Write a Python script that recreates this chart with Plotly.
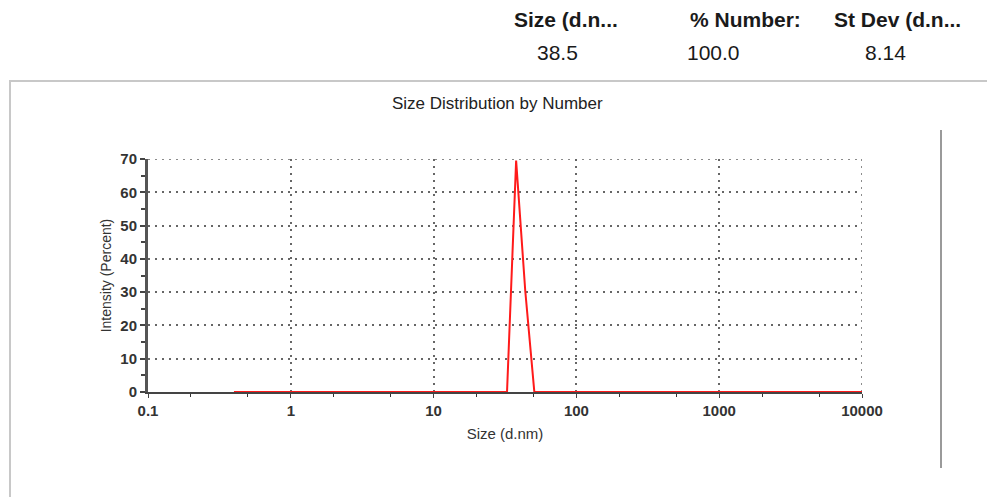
import plotly.graph_objects as go

# Size bins (d.nm) and number distribution (%)
sizes = [0.4000, 0.4632, 0.5365, 0.6213, 0.7195, 0.8332, 0.9649, 1.117, 1.294, 1.499,
         1.736, 2.010, 2.328, 2.696, 3.122, 3.615, 4.187, 4.849, 5.615, 6.503,
         7.531, 8.721, 10.10, 11.70, 13.54, 15.69, 18.17, 21.04, 24.36, 28.21,
         32.67, 37.84, 43.82, 50.75, 58.77, 68.06, 78.82, 91.28, 105.7, 122.4,
         141.8, 164.2, 190.1, 220.2, 255.0, 295.3, 342.0, 396.1, 458.7, 531.2,
         615.1, 712.4, 825.0, 955.4, 1106, 1281, 1484, 1718, 1990, 2305,
         2669, 3091, 3580, 4145, 4801, 5560, 6439, 7456, 8635, 10000]
number_pct = [0, 0, 0, 0, 0, 0, 0, 0, 0, 0,
              0, 0, 0, 0, 0, 0, 0, 0, 0, 0,
              0, 0, 0, 0, 0, 0, 0, 0, 0, 0,
              0, 69.5, 30.5, 0, 0, 0, 0, 0, 0, 0,
              0, 0, 0, 0, 0, 0, 0, 0, 0, 0,
              0, 0, 0, 0, 0, 0, 0, 0, 0, 0,
              0, 0, 0, 0, 0, 0, 0, 0, 0, 0]

x_tickvals = [0.1, 1, 10, 100, 1000, 10000]
x_ticktext = ["0.1", "1", "10", "100", "1000", "10000"]
y_tickvals = [0, 10, 20, 30, 40, 50, 60, 70]

header_labels = ["Size (d.n...", "% Number:", "St Dev (d.n..."]
header_values = ["38.5", "100.0", "8.14"]

W, H = 987, 497
L, R, T, B = 148, 862, 159, 392


def px(x):
    return (x - L) / (R - L)


def py(y):
    return (B - y) / (B - T)


FONT = "Liberation Sans Narrow, Liberation Sans, Arial, sans-serif"
HFONT = "Liberation Sans, Arial, sans-serif"
GRID = dict(color="#666", width=1.5, dash="2px,5px")

fig = go.Figure()
fig.add_trace(go.Scatter(x=sizes, y=number_pct, mode="lines",
                         line=dict(color="#ff1a1a", width=2),
                         cliponaxis=False, showlegend=False))

fig.update_xaxes(type="log", range=[-1, 4], tickvals=x_tickvals, ticktext=x_ticktext,
                 showgrid=True, gridcolor=GRID["color"], griddash=GRID["dash"], gridwidth=GRID["width"],
                 showline=True, linecolor="#444", linewidth=2, layer="below traces",
                 ticks="outside", ticklen=4, tickcolor="#444",
                 minor=dict(ticks="outside", ticklen=3, tickcolor="#333", showgrid=False),
                 tickfont=dict(family=HFONT, size=15, color="#333", weight="bold"),
                 title=dict(text="Size (d.nm)", font=dict(family=HFONT, size=15, color="#333"), standoff=10),
                 zeroline=False, mirror=False)
fig.update_yaxes(range=[0, 70], tickvals=y_tickvals,
                 showgrid=True, gridcolor=GRID["color"], griddash=GRID["dash"], gridwidth=GRID["width"],
                 showline=True, linecolor="#555", linewidth=3, layer="below traces",
                 ticks="outside", ticklen=5, tickcolor="#444", tickwidth=2,
                 minor=dict(dtick=5, ticks="outside", ticklen=4, tickcolor="#444", tickwidth=2, showgrid=False),
                 tickfont=dict(family=HFONT, size=15, color="#333", weight="bold"),
                 title=dict(text="Intensity (Percent)", font=dict(family=FONT, size=14, color="#333"), standoff=6),
                 zeroline=False)

shapes = [
    dict(type="rect", xref="paper", yref="paper", x0=px(10), x1=px(995), y0=py(505), y1=py(81),
         line=dict(color="#c8c8c8", width=2), fillcolor="rgba(0,0,0,0)", layer="below"),
    dict(type="line", xref="paper", yref="paper", x0=px(941), x1=px(941), y0=py(468), y1=py(130),
         line=dict(color="#9a9a9a", width=2)),
    # edge grid lines at y=70 and x=10000
    dict(type="line", xref="paper", yref="y", x0=0, x1=1, y0=y_tickvals[-1], y1=y_tickvals[-1],
         line=GRID, layer="below"),
    dict(type="line", xref="x", yref="paper", x0=x_tickvals[-1], x1=x_tickvals[-1], y0=0, y1=1,
         line=GRID, layer="below"),
]

annotations = [
    dict(text="Size Distribution by Number", x=px(497), y=py(103), xref="paper", yref="paper",
         xanchor="center", yanchor="middle",
         showarrow=False, font=dict(family=HFONT, size=17, color="#222")),
]
hx = [566, 745, 897]
for lab, cx in zip(header_labels, hx):
    annotations.append(dict(text=lab, x=px(cx), y=py(19), xref="paper", yref="paper",
                            xanchor="center", yanchor="middle",
                            showarrow=False, font=dict(family=HFONT, size=21, color="#1a1a1a", weight="bold")))
vx = [557, 713, 885]
for val, cx in zip(header_values, vx):
    annotations.append(dict(text=val, x=px(cx), y=py(53), xref="paper", yref="paper",
                            xanchor="center", yanchor="middle",
                            showarrow=False, font=dict(family=HFONT, size=21, color="#1a1a1a")))

fig.update_layout(width=W, height=H, margin=dict(l=L, r=W - R, t=T, b=H - B),
                  plot_bgcolor="white", paper_bgcolor="white",
                  shapes=shapes, annotations=annotations, showlegend=False)

fig.write_html("out.html", config={"displayModeBar": False},
               post_script="document.body.style.margin='0';")
